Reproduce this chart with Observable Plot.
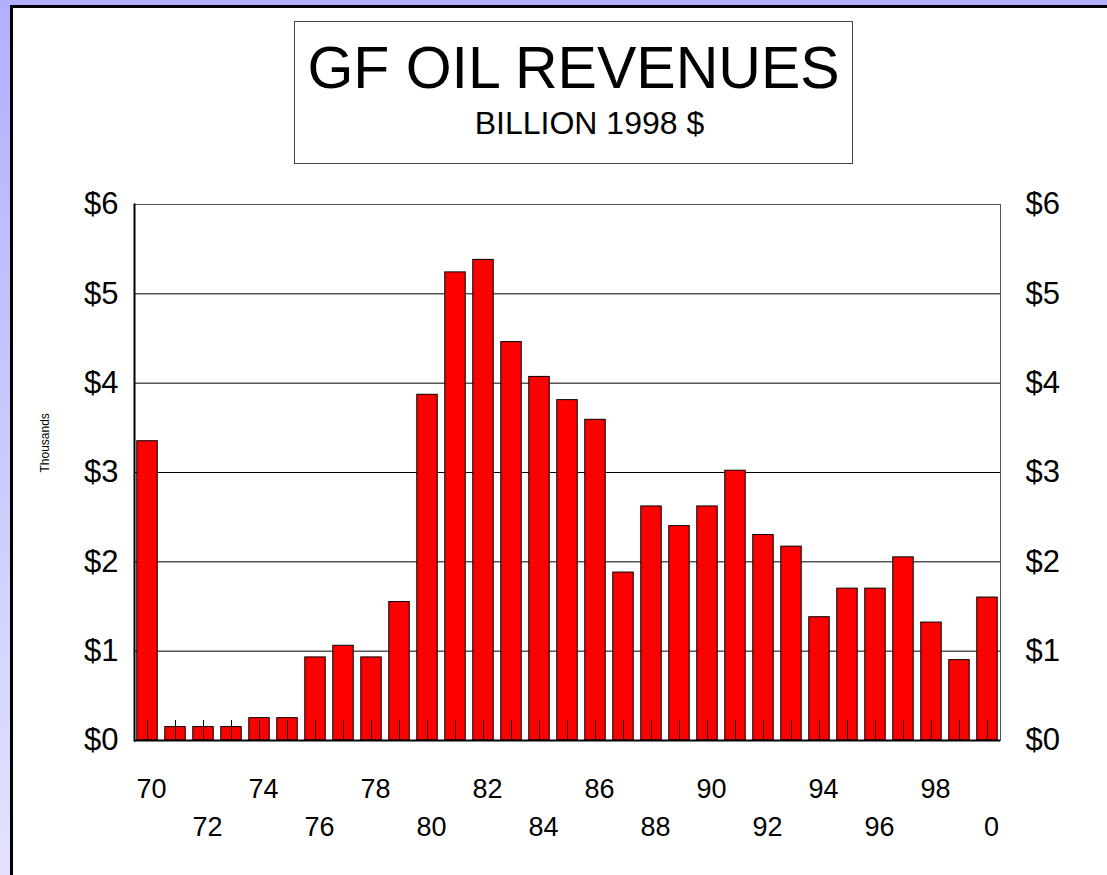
<!DOCTYPE html>
<html>
<head>
<meta charset="utf-8">
<script src="https://cdn.jsdelivr.net/npm/d3@7"></script>
<script src="https://cdn.jsdelivr.net/npm/@observablehq/plot@0.6"></script>
<style>
  html, body { margin: 0; padding: 0; width: 1107px; height: 875px; overflow: hidden; }
  body { background: linear-gradient(to bottom, #b0b0ff, #e2e2ff); font-family: "Liberation Sans", Arial, sans-serif; position: relative; }
  #sheet { position: absolute; left: 10px; top: 5px; width: 1110px; height: 880px; background: #fff; border-left: 3px solid #000; border-top: 3px solid #000; }
  #titlebox { position: absolute; left: 294px; top: 21px; width: 557px; height: 141px; border: 1px solid #444; background: #fff; text-align: center; }
  #title { position: absolute; left: 0; right: 0; top: 16px; font-size: 59px; line-height: 60px; color: #000; }
  #subtitle { position: absolute; left: 32px; right: 0; top: 84px; font-size: 32px; line-height: 34px; color: #000; }
  #chart { position: absolute; left: 0; top: 180px; }
</style>
</head>
<body>
<div id="sheet"></div>
<div id="titlebox"><div id="title">GF OIL REVENUES</div><div id="subtitle">BILLION 1998 $</div></div>
<div id="chart"></div>
<script>
const years = d3.range(1970, 2001);
const revenues = [3.35, 0.15, 0.15, 0.15, 0.25, 0.25, 0.93, 1.06, 0.93, 1.55,
  3.87, 5.24, 5.38, 4.46, 4.07, 3.81, 3.59, 1.88, 2.62, 2.40,
  2.62, 3.02, 2.30, 2.17, 1.38, 1.70, 1.70, 2.05, 1.32, 0.90, 1.60];
const topRowYears = [1970, 1974, 1978, 1982, 1986, 1990, 1994, 1998];
const bottomRowYears = [1972, 1976, 1980, 1984, 1988, 1992, 1996, 2000];
const yTicks = [0, 1, 2, 3, 4, 5, 6];
const gridValues = [1, 2, 3, 4, 5];

const data = years.map((y, i) => ({year: y, value: revenues[i]}));
const fmtYear = d => String(d % 100);
const fmtDollar = d => "$" + d;

const chart = Plot.plot({
  width: 1107,
  height: 670,
  marginLeft: 134,
  marginRight: 107,
  marginTop: 24,
  marginBottom: 110,
  style: {fontFamily: "'Liberation Sans', Arial, sans-serif", background: "transparent", color: "#000"},
  x: {type: "band", domain: years, paddingInner: 0.27, paddingOuter: 0.1, label: null},
  y: {domain: [0, 6], label: null},
  marks: [
    Plot.ruleY(gridValues, {stroke: "#000", strokeWidth: 1}),
    Plot.barY(data, {x: "year", y: "value", fill: "#ff0000", stroke: "#000", strokeWidth: 1}),
    Plot.frame({stroke: "#555", strokeWidth: 1}),
    Plot.frame({anchor: "left", stroke: "#000", strokeWidth: 2}),
    Plot.ruleY([0], {stroke: "#000", strokeWidth: 2}),
    Plot.axisX(years, {tickSize: -20, tickFormat: () => "", strokeWidth: 1, label: null}),
    Plot.axisX(topRowYears, {tickSize: 0, tickPadding: 38, dx: 4, tickFormat: fmtYear, fontSize: 27, label: null}),
    Plot.axisX(bottomRowYears, {tickSize: 0, tickPadding: 76, dx: 4, tickFormat: fmtYear, fontSize: 27, label: null}),
    Plot.axisY(yTicks, {anchor: "left", tickSize: 0, tickPadding: 16, tickFormat: fmtDollar, fontSize: 31, label: null}),
    Plot.axisY(yTicks, {anchor: "right", tickSize: 0, tickPadding: 25, tickFormat: fmtDollar, fontSize: 31, label: null}),
    Plot.text(["Thousands"], {frameAnchor: "left", rotate: -90, dx: -89, fontSize: 12, fill: "#000"})
  ]
});
document.getElementById("chart").appendChild(chart);
</script>
</body>
</html>
